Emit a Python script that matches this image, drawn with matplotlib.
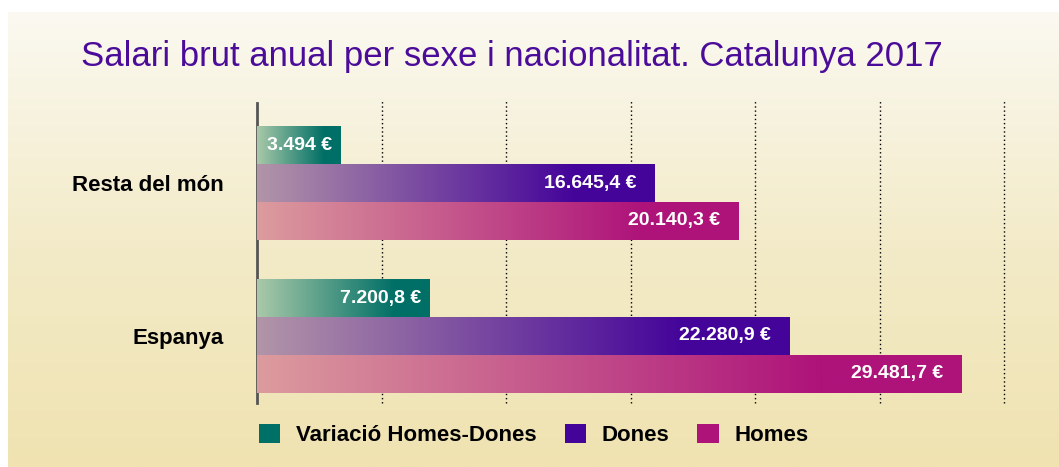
import numpy as np
import matplotlib
matplotlib.use('Agg')
import matplotlib.pyplot as plt
from matplotlib.colors import LinearSegmentedColormap
from matplotlib.patches import Patch

# data
categories = ['Espanya', 'Resta del món']
variacio = [7200.8, 3494]
dones = [22280.9, 16645.4]
homes = [29481.7, 20140.3]
series_names = ['Variació Homes-Dones', 'Dones', 'Homes']
title = 'Salari brut anual per sexe i nacionalitat. Catalunya 2017'

# style
full_colors = ['#006F66', '#44049A', '#AE137A']
light_colors = ['#A9C9A9', '#B295A8', '#DC9C9E']
offsets = [0.248, 0.0, -0.248]
label_pad = [6, 13.5, 13.5]
bar_h = 0.248
x_max = 31250
font = ['Liberation Sans', 'DejaVu Sans']


def fmt(v):
    if float(v).is_integer():
        s = f'{int(v):,}'.replace(',', '.')
    else:
        s = f'{v:,.1f}'.replace(',', 'X').replace('.', ',').replace('X', '.')
    return s + ' €'


fig = plt.figure(figsize=(10.59, 4.67), dpi=100)
fig.patch.set_facecolor('white')

# cream background panel
bg = fig.add_axes([8 / 1059, 0, 1 - 8 / 1059, 455 / 467], zorder=-5)
bg_cmap = LinearSegmentedColormap.from_list('bg', ['#FBF9F1', '#F3EBC9', '#F0E3B1'])
bg.imshow(np.linspace(0, 1, 256).reshape(-1, 1), aspect='auto', cmap=bg_cmap,
          extent=(0, 1, 0, 1))
bg.axis('off')

ax = fig.add_axes([257 / 1059, 64 / 467, 747 / 1059, 300 / 467])
ax.patch.set_alpha(0)

y_pos = np.arange(len(categories))
all_series = [variacio, dones, homes]
for i, vals in enumerate(all_series):
    cmap = LinearSegmentedColormap.from_list(
        f'g{i}', [(0, light_colors[i]), (0.8, full_colors[i]), (1, full_colors[i])])
    bars = ax.barh(y_pos + offsets[i], vals, height=bar_h, color=full_colors[i],
                   zorder=3)
    for bar, v in zip(bars, vals):
        im = ax.imshow(np.linspace(0, 1, 256).reshape(1, -1), aspect='auto', cmap=cmap,
                       extent=(0, v, bar.get_y(), bar.get_y() + bar_h), zorder=4)
        im.set_clip_path(bar)
        ax.annotate(fmt(v), xy=(v, bar.get_y() + bar_h / 2), xytext=(-label_pad[i], 0),
                    textcoords='offset points', ha='right', va='center',
                    color='white', fontsize=14, fontweight='bold', family=font,
                    zorder=5)

ax.set_xlim(0, x_max)
ax.set_ylim(-0.438, 1.523)

for gx in np.arange(1, 7) * x_max / 6:
    ax.axvline(gx, ymin=0, ymax=1.01, color='black', lw=1.0, ls=(0, (1, 2)),
               zorder=1, clip_on=False)

for s in ['top', 'right', 'bottom']:
    ax.spines[s].set_visible(False)
ax.spines['left'].set_color('#555555')
ax.spines['left'].set_linewidth(2)
ax.set_xticks([])
ax.set_yticks(y_pos)
ax.set_yticklabels(categories, fontsize=16, fontweight='bold', family=font)
ax.tick_params(axis='y', length=0, pad=24)

fig.text(512 / 1059, (467 - 66) / 467, title, ha='center', va='baseline',
         fontsize=25, color='#4B0C9A', family=font)

handles = [Patch(facecolor=c, edgecolor='none') for c in full_colors]
fig.legend(handles, series_names, loc='center', bbox_to_anchor=(534 / 1059, (467 - 435) / 467),
           ncol=3, frameon=False, handlelength=0.95, handleheight=0.95,
           handletextpad=0.72, columnspacing=1.25,
           prop={'family': font, 'weight': 'bold', 'size': 16})

fig.savefig('out.png', dpi=100)
